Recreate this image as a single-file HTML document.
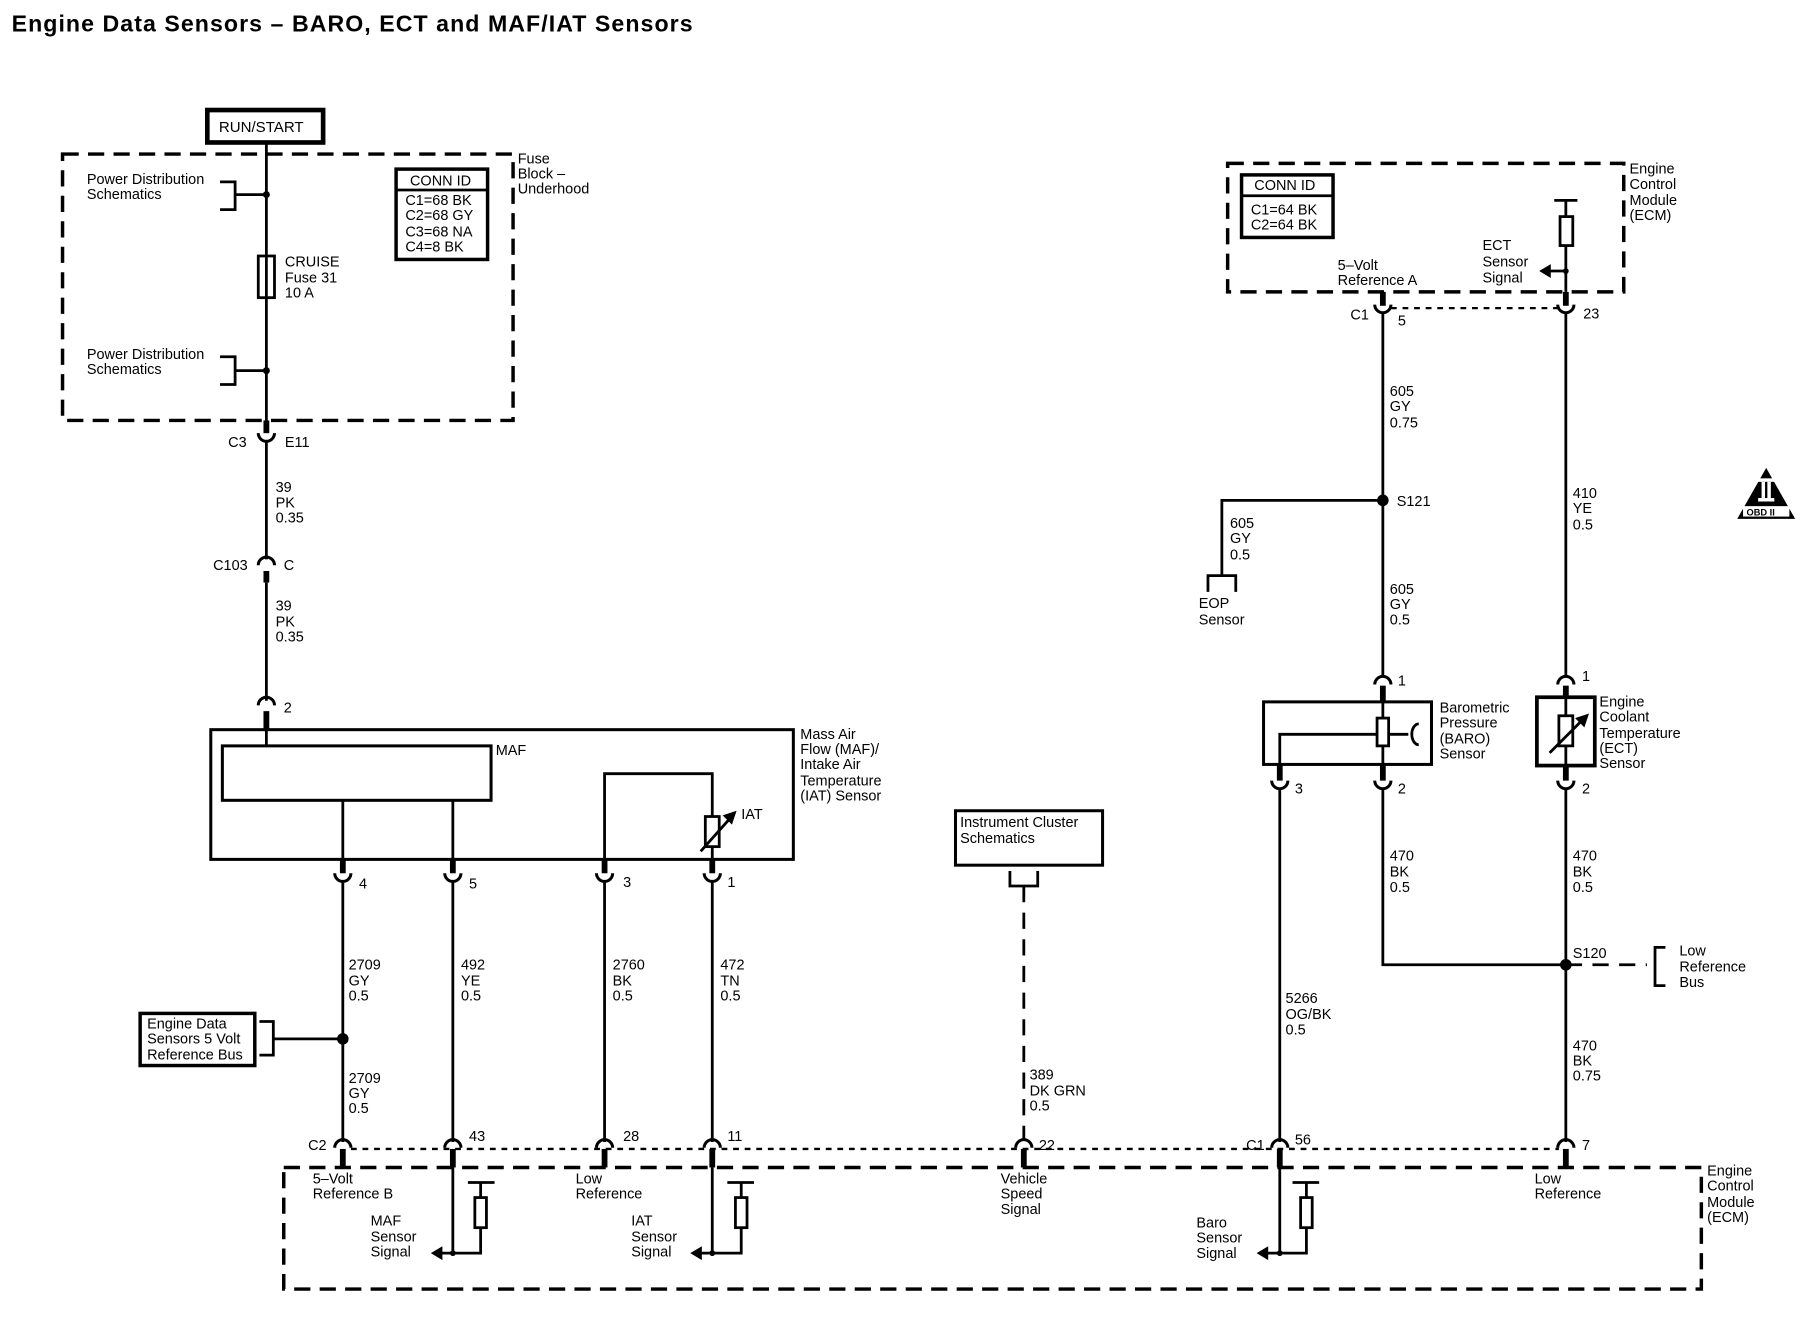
<!DOCTYPE html>
<html><head><meta charset="utf-8"><style>
html,body{margin:0;padding:0;background:#fff;}
svg{display:block;}
text{font-family:"Liberation Sans Narrow","Liberation Sans",sans-serif;font-size:12.5px;fill:#000;}
</style></head><body>
<svg width="1816" height="1328" viewBox="0 0 1568 1146.6" xmlns="http://www.w3.org/2000/svg">
<defs>
<path id="cu" d="M-7,-5 A7,7 0 0 0 7,-5" fill="none" stroke="#000" stroke-width="2.6"/>
<path id="cn" d="M-7,5 A7,7 0 0 1 7,5" fill="none" stroke="#000" stroke-width="2.6"/>
</defs>
<text x="10" y="27" style="font-family:'Liberation Sans',sans-serif;font-weight:bold;font-size:20px" textLength="588">Engine Data Sensors – BARO, ECT and MAF/IAT Sensors</text>

<g fill="none" stroke="#000" stroke-width="2.4">
<rect x="179" y="95" width="100" height="28" stroke-width="4"/>
<rect x="54" y="133" width="389" height="230" stroke-width="3" stroke-dasharray="14,8"/>
<line x1="230" y1="123" x2="230" y2="363"/>
<path d="M190,157 H203 V181 H190 M203,168 H230"/>
<path d="M190,308 H203 V332 H190 M203,320 H230"/>
<rect x="223" y="221" width="14" height="36" fill="#fff"/>
<line x1="230" y1="221" x2="230" y2="257"/>
<rect x="342" y="146" width="79" height="78" stroke-width="3"/>
<line x1="342" y1="164" x2="421" y2="164"/>
<line x1="230" y1="363" x2="230" y2="374" stroke-width="5"/>
<line x1="230" y1="381" x2="230" y2="483"/>
<line x1="230" y1="493" x2="230" y2="503" stroke-width="5"/>
<line x1="230" y1="503" x2="230" y2="605"/>
<line x1="230" y1="614" x2="230" y2="629" stroke-width="5"/>
<rect x="182" y="630" width="503" height="112" stroke-width="2.6"/>
<rect x="192" y="644" width="232" height="47" stroke-width="2.6"/>
<line x1="230" y1="630" x2="230" y2="644"/>
<line x1="296" y1="691" x2="296" y2="742"/>
<line x1="391" y1="691" x2="391" y2="742"/>
<path d="M522,742 V668 H615 V742"/>
<rect x="609" y="705" width="12" height="26" fill="#fff"/>
<line x1="605" y1="735" x2="630" y2="707"/>
<g stroke-width="5">
<line x1="296" y1="742" x2="296" y2="754"/><line x1="391" y1="742" x2="391" y2="754"/>
<line x1="522" y1="742" x2="522" y2="754"/><line x1="615" y1="742" x2="615" y2="754"/>
</g>
<line x1="296" y1="760" x2="296" y2="986"/><line x1="391" y1="760" x2="391" y2="986"/>
<line x1="522" y1="760" x2="522" y2="986"/><line x1="615" y1="760" x2="615" y2="986"/>
<rect x="121" y="875" width="99" height="45" stroke-width="3"/>
<path d="M224,882 H236 V911 H224 M236,897 H296"/>
<rect x="825" y="700" width="127" height="47" stroke-width="2.6"/>
<path d="M872,752 V765 H896 V752"/>
<line x1="884" y1="765" x2="884" y2="985" stroke-dasharray="14,9"/>
<line x1="303" y1="992" x2="1346" y2="992" stroke-dasharray="5,5" stroke-width="2"/>
<g stroke-width="5">
<line x1="296" y1="992" x2="296" y2="1008"/><line x1="391" y1="992" x2="391" y2="1008"/>
<line x1="522" y1="992" x2="522" y2="1008"/><line x1="615" y1="992" x2="615" y2="1008"/>
<line x1="884" y1="992" x2="884" y2="1008"/><line x1="1105" y1="992" x2="1105" y2="1008"/>
<line x1="1352" y1="992" x2="1352" y2="1008"/>
</g>
<rect x="245" y="1008" width="1224" height="105" stroke-width="3" stroke-dasharray="14,8"/>
<line x1="391" y1="1008" x2="391" y2="1082"/>
<path d="M404,1021 H427 M415,1021 V1034 M415,1060 V1082 H380"/>
<rect x="410" y="1034" width="10" height="26" fill="#fff"/>
<line x1="615" y1="1008" x2="615" y2="1082"/>
<path d="M628,1021 H651 M640,1021 V1034 M640,1060 V1082 H604"/>
<rect x="635" y="1034" width="10" height="26" fill="#fff"/>
<line x1="1105" y1="1008" x2="1105" y2="1082"/>
<path d="M1116,1021 H1139 M1128,1021 V1034 M1128,1060 V1082 H1094"/>
<rect x="1123" y="1034" width="10" height="26" fill="#fff"/>

<rect x="1060" y="141" width="342" height="111" stroke-width="3" stroke-dasharray="14,8"/>
<rect x="1072" y="151" width="79" height="54" stroke-width="3"/>
<line x1="1072" y1="169" x2="1151" y2="169"/>
<path d="M1342,173 H1362 M1352,173 V187 M1352,212 V252 M1352,234 H1338"/>
<rect x="1347" y="187" width="11" height="25" fill="#fff"/>
<line x1="1194" y1="252" x2="1194" y2="264" stroke-width="5"/>
<line x1="1352" y1="252" x2="1352" y2="264" stroke-width="5"/>
<line x1="1201" y1="266" x2="1345" y2="266" stroke-dasharray="5,5" stroke-width="2"/>
<line x1="1194" y1="270" x2="1194" y2="584"/>
<line x1="1352" y1="270" x2="1352" y2="584"/>
<path d="M1194,432 H1055 V497"/>
<path d="M1043,511 V497 H1067 V511"/>
<line x1="1194" y1="592" x2="1194" y2="606" stroke-width="5"/>
<rect x="1091" y="606" width="145" height="54" stroke-width="2.6"/>
<line x1="1194" y1="606" x2="1194" y2="660"/>
<rect x="1189" y="620" width="10" height="24" fill="#fff"/>
<path d="M1189,634 H1105 V660 M1199,634 H1216"/>
<path d="M1225,625 A6,9 0 0 0 1225,643"/>
<line x1="1352" y1="592" x2="1352" y2="602" stroke-width="5"/>
<rect x="1327" y="602" width="50" height="59" stroke-width="3.2"/>
<line x1="1352" y1="602" x2="1352" y2="661"/>
<rect x="1346" y="618" width="12" height="26" fill="#fff"/>
<line x1="1338" y1="650" x2="1366" y2="622"/>
<g stroke-width="5">
<line x1="1105" y1="660" x2="1105" y2="674"/><line x1="1194" y1="660" x2="1194" y2="674"/>
<line x1="1352" y1="661" x2="1352" y2="674"/>
</g>
<line x1="1105" y1="680" x2="1105" y2="986"/>
<path d="M1194,680 V833 H1352"/>
<line x1="1352" y1="680" x2="1352" y2="986"/>
<line x1="1352" y1="833" x2="1422" y2="833" stroke-dasharray="14,9"/>
<path d="M1438,818 H1429 V851 H1438"/>
</g>
<use href="#cu" x="230" y="379"/>
<use href="#cn" x="230" y="483"/>
<use href="#cn" x="230" y="604"/>
<use href="#cu" x="296" y="759"/><use href="#cu" x="391" y="759"/><use href="#cu" x="522" y="759"/><use href="#cu" x="615" y="759"/>
<use href="#cn" x="296" y="986"/><use href="#cn" x="391" y="986"/><use href="#cn" x="522" y="986"/><use href="#cn" x="615" y="986"/>
<use href="#cn" x="884" y="986"/><use href="#cn" x="1105" y="986"/><use href="#cn" x="1352" y="986"/>
<use href="#cu" x="1194" y="268"/><use href="#cu" x="1352" y="268"/>
<use href="#cn" x="1194" y="586"/><use href="#cn" x="1352" y="586"/>
<use href="#cu" x="1105" y="679"/><use href="#cu" x="1194" y="679"/><use href="#cu" x="1352" y="679"/>
<g fill="#000">
<circle cx="230" cy="168" r="3"/><circle cx="230" cy="320" r="3"/>
<circle cx="296" cy="897" r="5"/>
<circle cx="1194" cy="432" r="5"/><circle cx="1352" cy="833" r="5"/>
<circle cx="1352" cy="234" r="2.5"/>
<circle cx="391" cy="1082" r="2.5"/><circle cx="615" cy="1082" r="2.5"/><circle cx="1105" cy="1082" r="2.5"/>
<path d="M372,1082 L382,1076 L382,1088 Z"/>
<path d="M596,1082 L606,1076 L606,1088 Z"/>
<path d="M1085,1082 L1095,1076 L1095,1088 Z"/>
<path d="M1329,234 L1339,228 L1339,240 Z"/>
<path d="M636,700 L624,704 L632,712 Z"/>
<path d="M1372,616 L1360,620 L1368,628 Z"/>
<path d="M1525,404 L1500,448 L1550,448 Z"/>
</g>
<rect x="1505" y="437" width="40" height="9" fill="#fff"/>
<rect x="1518" y="413" width="14" height="3" fill="#fff"/>
<rect x="1518" y="430" width="14" height="3" fill="#fff"/>
<rect x="1521" y="416" width="3" height="14" fill="#fff"/>
<rect x="1526" y="416" width="3" height="14" fill="#fff"/>
<text x="1508" y="445" style="font-size:8px;font-weight:bold">OBD II</text>

<text x="189" y="114" style="font-size:13px">RUN/START</text>
<text x="447" y="141">Fuse</text><text x="447" y="154">Block –</text><text x="447" y="167">Underhood</text>
<text x="75" y="159">Power Distribution</text><text x="75" y="172">Schematics</text>
<text x="75" y="310">Power Distribution</text><text x="75" y="323">Schematics</text>
<text x="246" y="230">CRUISE</text><text x="246" y="244">Fuse 31</text><text x="246" y="257">10 A</text>
<text x="354" y="160">CONN ID</text>
<text x="350" y="177">C1=68 BK</text><text x="350" y="190">C2=68 GY</text><text x="350" y="204">C3=68 NA</text><text x="350" y="217">C4=8 BK</text>
<text x="197" y="386">C3</text><text x="246" y="386">E11</text>
<text x="238" y="425">39</text><text x="238" y="438">PK</text><text x="238" y="451">0.35</text>
<text x="184" y="492">C103</text><text x="245" y="492">C</text>
<text x="238" y="527">39</text><text x="238" y="541">PK</text><text x="238" y="554">0.35</text>
<text x="245" y="615">2</text>
<text x="428" y="652">MAF</text>
<text x="691" y="638">Mass Air</text><text x="691" y="651">Flow (MAF)/</text><text x="691" y="664">Intake Air</text><text x="691" y="678">Temperature</text><text x="691" y="691">(IAT) Sensor</text>
<text x="640" y="707">IAT</text>
<text x="310" y="767">4</text><text x="405" y="767">5</text><text x="538" y="766">3</text><text x="628" y="766">1</text>
<text x="301" y="837">2709</text><text x="301" y="851">GY</text><text x="301" y="864">0.5</text>
<text x="398" y="837">492</text><text x="398" y="851">YE</text><text x="398" y="864">0.5</text>
<text x="529" y="837">2760</text><text x="529" y="851">BK</text><text x="529" y="864">0.5</text>
<text x="622" y="837">472</text><text x="622" y="851">TN</text><text x="622" y="864">0.5</text>
<text x="127" y="888">Engine Data</text><text x="127" y="901">Sensors 5 Volt</text><text x="127" y="915">Reference Bus</text>
<text x="301" y="935">2709</text><text x="301" y="948">GY</text><text x="301" y="961">0.5</text>
<text x="829" y="714">Instrument Cluster</text><text x="829" y="728">Schematics</text>
<text x="889" y="932">389</text><text x="889" y="946">DK GRN</text><text x="889" y="959">0.5</text>
<text x="266" y="993">C2</text><text x="405" y="985">43</text><text x="538" y="985">28</text><text x="628" y="985">11</text>
<text x="897" y="993">22</text><text x="1076" y="993">C1</text><text x="1118" y="988">56</text><text x="1366" y="993">7</text>
<text x="270" y="1022">5–Volt</text><text x="270" y="1035">Reference B</text>
<text x="320" y="1058">MAF</text><text x="320" y="1072">Sensor</text><text x="320" y="1085">Signal</text>
<text x="497" y="1022">Low</text><text x="497" y="1035">Reference</text>
<text x="545" y="1058">IAT</text><text x="545" y="1072">Sensor</text><text x="545" y="1085">Signal</text>
<text x="864" y="1022">Vehicle</text><text x="864" y="1035">Speed</text><text x="864" y="1048">Signal</text>
<text x="1033" y="1060">Baro</text><text x="1033" y="1073">Sensor</text><text x="1033" y="1086">Signal</text>
<text x="1325" y="1022">Low</text><text x="1325" y="1035">Reference</text>
<text x="1474" y="1015">Engine</text><text x="1474" y="1028">Control</text><text x="1474" y="1042">Module</text><text x="1474" y="1055">(ECM)</text>
<text x="1407" y="150">Engine</text><text x="1407" y="163">Control</text><text x="1407" y="177">Module</text><text x="1407" y="190">(ECM)</text>
<text x="1083" y="164">CONN ID</text>
<text x="1080" y="185">C1=64 BK</text><text x="1080" y="198">C2=64 BK</text>
<text x="1155" y="233">5–Volt</text><text x="1155" y="246">Reference A</text>
<text x="1280" y="216">ECT</text><text x="1280" y="230">Sensor</text><text x="1280" y="244">Signal</text>
<text x="1166" y="276">C1</text><text x="1207" y="281">5</text><text x="1367" y="275">23</text>
<text x="1200" y="342">605</text><text x="1200" y="355">GY</text><text x="1200" y="369">0.75</text>
<text x="1206" y="437">S121</text>
<text x="1062" y="456">605</text><text x="1062" y="469">GY</text><text x="1062" y="483">0.5</text>
<text x="1035" y="525">EOP</text><text x="1035" y="539">Sensor</text>
<text x="1200" y="513">605</text><text x="1200" y="526">GY</text><text x="1200" y="539">0.5</text>
<text x="1358" y="430">410</text><text x="1358" y="443">YE</text><text x="1358" y="457">0.5</text>
<text x="1207" y="592">1</text><text x="1366" y="588">1</text>
<text x="1243" y="615">Barometric</text><text x="1243" y="628">Pressure</text><text x="1243" y="642">(BARO)</text><text x="1243" y="655">Sensor</text>
<text x="1381" y="610">Engine</text><text x="1381" y="623">Coolant</text><text x="1381" y="637">Temperature</text><text x="1381" y="650">(ECT)</text><text x="1381" y="663">Sensor</text>
<text x="1118" y="685">3</text><text x="1207" y="685">2</text><text x="1366" y="685">2</text>
<text x="1200" y="743">470</text><text x="1200" y="757">BK</text><text x="1200" y="770">0.5</text>
<text x="1358" y="743">470</text><text x="1358" y="757">BK</text><text x="1358" y="770">0.5</text>
<text x="1358" y="827">S120</text>
<text x="1450" y="825">Low</text><text x="1450" y="839">Reference</text><text x="1450" y="852">Bus</text>
<text x="1110" y="866">5266</text><text x="1110" y="880">OG/BK</text><text x="1110" y="893">0.5</text>
<text x="1358" y="907">470</text><text x="1358" y="920">BK</text><text x="1358" y="933">0.75</text>
</svg>
</body></html>
